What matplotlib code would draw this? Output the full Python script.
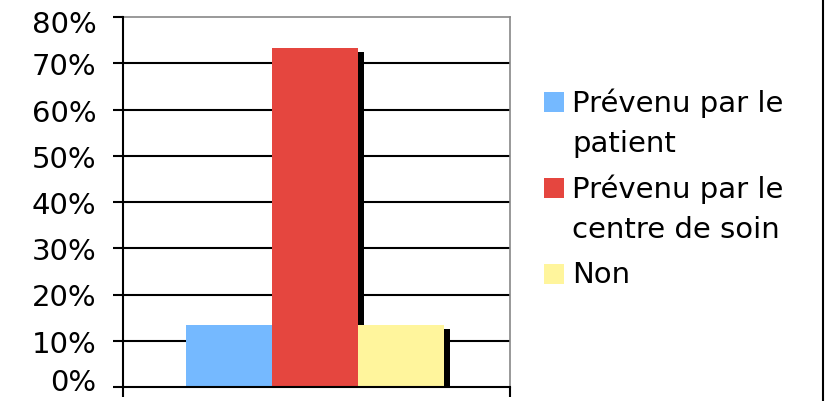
import textwrap
import numpy as np
import matplotlib
matplotlib.use("Agg")
import matplotlib.pyplot as plt
import matplotlib.patheffects as pe
import matplotlib.transforms as mtransforms
from matplotlib.patches import Rectangle
from matplotlib.lines import Line2D
from matplotlib.ticker import PercentFormatter

plt.rcParams['font.family'] = ['DejaVu Sans']

# ---------------- data
labels = ['Prévenu par le patient', 'Prévenu par le centre de soin', 'Non']
values = [13.33, 73.33, 13.33]
colors = ['#75B9FF', '#E5463F', '#FFF59C']
yticks = [0, 10, 20, 30, 40, 50, 60, 70, 80]

# ---------------- figure
W, H = 827, 402
fig = plt.figure(figsize=(W / 100, H / 100), dpi=100)
ax = fig.add_axes([123 / W, 1 - 388 / H, (510 - 123) / W, (388 - 18) / H])

x = np.arange(len(values))
shadow = [pe.SimplePatchShadow(offset=(4.3, -2.9), shadow_rgbFace='black', alpha=1.0), pe.Normal()]
for xi, v, c in zip(x, values, colors):
    ax.bar(xi, v, width=1.0, color=c, zorder=3, path_effects=shadow)

ax.set_xlim(-1.233, 3.267)
ax.set_ylim(0, 80)
ax.set_yticks(yticks)
ax.yaxis.set_major_formatter(PercentFormatter(decimals=0))
ax.set_xticks(ax.get_xlim())
ax.set_xticklabels([])

for y in yticks[1:-1]:
    ax.axhline(y, color='black', lw=1.5, zorder=1)

for s in ['left', 'bottom']:
    ax.spines[s].set_color('black')
    ax.spines[s].set_linewidth(1.5)
    ax.spines[s].set_zorder(4)
for s in ['top', 'right']:
    ax.spines[s].set_color('#888888')
    ax.spines[s].set_linewidth(1.2)

ax.tick_params(axis='y', direction='out', length=7, width=1.5, pad=12,
               labelsize=21, labelcolor='black')
ax.tick_params(axis='x', direction='out', length=7, width=1.5)

# keep the end labels inside the figure
ylabs = ax.get_yticklabels()
for lab, dy in [(ylabs[0], 8), (ylabs[-1], -4)]:
    lab.set_transform(lab.get_transform() +
                      mtransforms.ScaledTranslation(0, dy / 100, fig.dpi_scale_trans))

# ---------------- legend (drawn by hand, marker aligned with first line)
cursor = 103
for lab, c in zip(labels, colors):
    lines = textwrap.wrap(lab, 14)
    fig.patches.append(Rectangle((544 / W, 1 - (cursor + 10) / H), 20 / W, 20 / H,
                                 transform=fig.transFigure, facecolor=c, edgecolor='none'))
    for k, line in enumerate(lines):
        fig.text(572 / W, 1 - (cursor + 41 * k) / H, line, fontsize=21,
                 va='center', ha='left', color='black')
    cursor += 41 * len(lines) + 4

fig.lines.append(Line2D([823 / W, 823 / W], [0, 1], transform=fig.transFigure,
                        color='black', lw=1.5))

fig.savefig('out.png', dpi=100)
